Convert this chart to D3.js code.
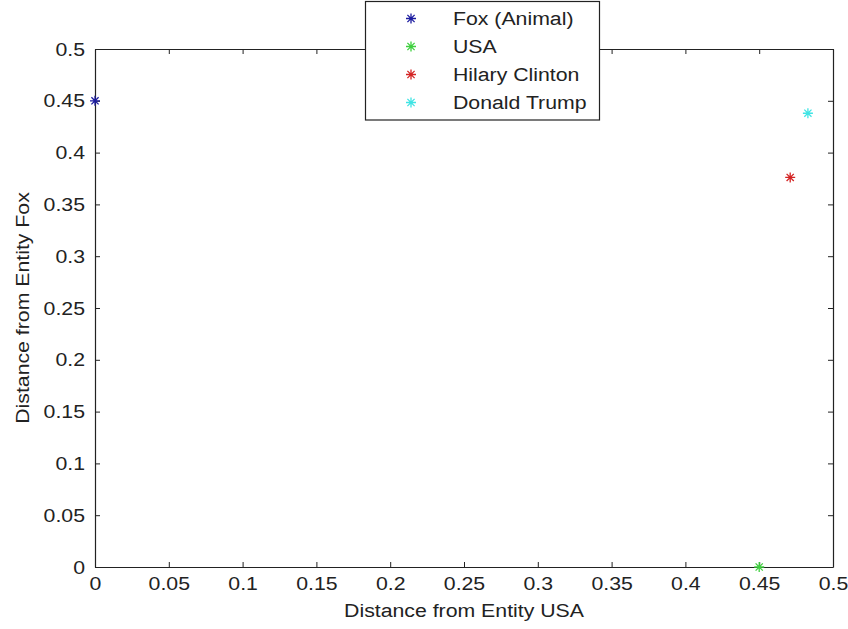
<!DOCTYPE html>
<html>
<head>
<meta charset="utf-8">
<script src="https://cdn.jsdelivr.net/npm/d3@7"></script>
<style>
  body { margin: 0; background: #fff; }
  text { font-family: "Liberation Sans", Arial, sans-serif; fill: #222; }
</style>
</head>
<body>
<svg id="chart"></svg>
<script>
// entities, distances from USA (x) and from Fox (y)
var names = ["Fox (Animal)", "USA", "Hilary Clinton", "Donald Trump"];
var distUSA = [0, 0.45, 0.471, 0.483];
var distFox = [0.45, 0, 0.376, 0.438];
var colors = ["#1c1ca0", "#3fd03f", "#d42424", "#40e4e4"];
var xTicks = [0, 0.05, 0.1, 0.15, 0.2, 0.25, 0.3, 0.35, 0.4, 0.45, 0.5];
var yTicks = [0, 0.05, 0.1, 0.15, 0.2, 0.25, 0.3, 0.35, 0.4, 0.45, 0.5];

var width = 848, height = 629;
var margin = {top: 49, right: 15, bottom: 62, left: 95};
var fontSize = "19px",
	stretch = 1.12; // the original text is a bit wider than Arial

var svg = d3.select("#chart").attr("width", width).attr("height", height);

var x = d3.scaleLinear().domain([0, 0.5]).range([margin.left, width - margin.right]);
var y = d3.scaleLinear().domain([0, 0.5]).range([height - margin.bottom, margin.top]);

var fmt = function(d){ return d === 0 ? "0" : String(d); };

// widen text horizontally around its x anchor
function widen(sel){
	sel.each(function(){
		var t = d3.select(this);
		var ax = +t.attr("x") || 0;
		t.attr("transform", "translate(" + ax + ",0) scale(" + stretch + ",1) translate(" + (-ax) + ",0)");
	});
}

// axes (ticks inside, matlab style box)
svg.append("g")
	.attr("transform", "translate(0," + y(0) + ")")
	.call(d3.axisBottom(x).tickValues(xTicks).tickFormat(fmt).tickSizeInner(-5).tickSizeOuter(0).tickPadding(10))
	.call(styleAxis);
svg.append("g")
	.attr("transform", "translate(0," + y(0.5) + ")")
	.call(d3.axisTop(x).tickValues(xTicks).tickFormat("").tickSizeInner(-5).tickSizeOuter(0))
	.call(styleAxis);
svg.append("g")
	.attr("transform", "translate(" + x(0) + ",0)")
	.call(d3.axisLeft(y).tickValues(yTicks).tickFormat(fmt).tickSizeInner(-5).tickSizeOuter(0).tickPadding(10))
	.call(styleAxis);
svg.append("g")
	.attr("transform", "translate(" + x(0.5) + ",0)")
	.call(d3.axisRight(y).tickValues(yTicks).tickFormat("").tickSizeInner(-5).tickSizeOuter(0))
	.call(styleAxis);

function styleAxis(g){
	g.select(".domain").attr("stroke", "#222").attr("stroke-width", 1.2);
	g.selectAll(".tick line").attr("stroke", "#222");
	g.selectAll(".tick text").style("font-size", fontSize).attr("fill", "#222").call(widen);
}

// axis labels
svg.append("text")
	.attr("x", (x(0) + x(0.5)) / 2).attr("y", 617)
	.attr("text-anchor", "middle").style("font-size", fontSize)
	.text("Distance from Entity USA")
	.call(widen);
svg.append("text")
	.attr("transform", "translate(29," + (y(0) + y(0.5)) / 2 + ") rotate(-90) scale(" + stretch + ",1)")
	.attr("text-anchor", "middle").style("font-size", fontSize)
	.text("Distance from Entity Fox");

// asterisk marker like matlab '*'
function star(g, cx, cy, r, col){
	var a = r * 0.72;
	var p = "M" + (cx - r) + "," + cy + "H" + (cx + r)
		+ "M" + cx + "," + (cy - r) + "V" + (cy + r)
		+ "M" + (cx - a) + "," + (cy - a) + "L" + (cx + a) + "," + (cy + a)
		+ "M" + (cx - a) + "," + (cy + a) + "L" + (cx + a) + "," + (cy - a);
	g.append("path").attr("d", p).attr("stroke", col).attr("stroke-width", 1.3).attr("fill", "none");
}

var pts = svg.append("g");
names.forEach(function(n, i){
	star(pts, x(distUSA[i]), y(distFox[i]), 5, colors[i]);
});

// legend
var leg = svg.append("g");
leg.append("rect").attr("x", 365.5).attr("y", 1.5).attr("width", 234).attr("height", 118.5)
	.attr("fill", "#fff").attr("stroke", "#222").attr("stroke-width", 1.2);
names.forEach(function(n, i){
	var ly = 18.5 + i * 28;
	star(leg, 411, ly, 5, colors[i]);
	leg.append("text").attr("x", 453).attr("y", ly + 7).style("font-size", fontSize).text(n).call(widen);
});
</script>
</body>
</html>
